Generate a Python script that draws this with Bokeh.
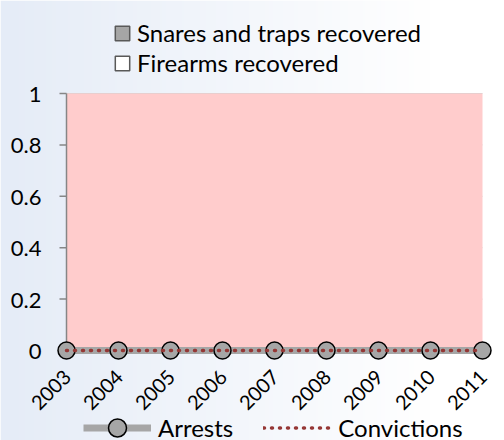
import math
import numpy as np
from bokeh.plotting import figure
from bokeh.models import Legend, LegendItem, Range1d, BoxAnnotation
from bokeh.core.properties import value
from bokeh.embed import file_html
from bokeh.resources import INLINE

years = [2003, 2004, 2005, 2006, 2007, 2008, 2009, 2010, 2011]
arrests = [0, 0, 0, 0, 0, 0, 0, 0, 0]
convictions = [0, 0, 0, 0, 0, 0, 0, 0, 0]
snares_traps = [0, 0, 0, 0, 0, 0, 0, 0, 0]
firearms = [0, 0, 0, 0, 0, 0, 0, 0, 0]
x_tick_labels = ["2003", "2004", "2005", "2006", "2007", "2008", "2009", "2010", "2011"]
y_ticks = [0, 0.2, 0.4, 0.6, 0.8, 1]
y_tick_labels = ["0", "0.2", "0.4", "0.6", "0.8", "1"]

FONT = "Lato"
W, H = 504, 440
# desired pixel positions of the plot area (layout only)
PA_LEFT, PA_RIGHT, PA_TOP, PA_BOTTOM = 66, 482, 93, 350

x_lo, x_hi = years[0], years[-1]
y_lo, y_hi = y_ticks[0], y_ticks[-1]
ppx = (PA_RIGHT - PA_LEFT) / (x_hi - x_lo)
ppy = (PA_BOTTOM - PA_TOP) / (y_hi - y_lo)
xr = Range1d(x_lo - PA_LEFT / ppx, x_lo + (W - PA_LEFT) / ppx)
yr = Range1d(y_lo - (H - PA_BOTTOM) / ppy, y_hi + PA_TOP / ppy)

p = figure(width=W, height=H, x_range=xr, y_range=yr,
           output_backend="svg", toolbar_location=None,
           min_border_left=0, min_border_right=0, min_border_top=0, min_border_bottom=0)
p.xaxis.visible = False
p.yaxis.visible = False
p.xgrid.grid_line_color = None
p.ygrid.grid_line_color = None
p.background_fill_color = None
p.border_fill_color = "#E6EDF7"
p.outline_line_color = None

# background gradient (light blue -> white)
gw = 256
t = np.clip((np.arange(gw) * W / gw) / (W * 0.85), 0, 1)
c0 = np.array([229, 236, 247])
c1 = np.array([255, 255, 255])
cols = (c0[None, :] * (1 - t[:, None]) + c1[None, :] * t[:, None]).astype(np.uint32)
row = (255 << 24) | (cols[:, 2] << 16) | (cols[:, 1] << 8) | cols[:, 0]
img = np.tile(row.astype(np.uint32), (2, 1))
p.image_rgba(image=[img], x=xr.start, y=yr.start, dw=xr.end - xr.start, dh=yr.end - yr.start, level="image")

# plot area
p.add_layout(BoxAnnotation(left=x_lo, right=x_hi, bottom=y_lo, top=y_hi,
                           fill_color="#FFCCCC", fill_alpha=1, line_color=None, level="underlay"))
# horizontal grid lines
p.segment(x0=[x_lo] * len(y_ticks), x1=[x_hi] * len(y_ticks), y0=y_ticks, y1=y_ticks,
          line_color="#D0D0D0", line_width=1, level="underlay")

# y axis (line, ticks, labels)
p.segment(x0=[x_lo], y0=[y_lo], x1=[x_lo], y1=[y_hi], line_color="#868686", line_width=1.5)
p.ray(x=[x_lo] * len(y_ticks), y=y_ticks, length=7, length_units="screen", angle=math.pi,
      line_color="#868686", line_width=1.5)
p.text(x=[x_lo] * len(y_ticks), y=y_ticks, text=y_tick_labels, text_align="right",
       text_baseline="middle", x_offset=-25, y_offset=1,
       text_font=value(FONT), text_font_size="22px", text_color="#000000")

# x axis labels
p.text(x=years, y=[y_lo] * len(years), text=x_tick_labels, angle=math.pi / 4,
       text_align="right", text_baseline="middle", x_offset=1, y_offset=23,
       text_font=value(FONT), text_font_size="20px", text_color="#000000")

# bars (all zero)
r_snare = p.vbar(x=years, top=snares_traps, width=0.3, fill_color="#A6A6A6", line_color="#595959", line_width=1.5)
r_fire = p.vbar(x=years, top=firearms, width=0.3, fill_color="#FFFFFF", line_color="#595959", line_width=1.5)

# arrests
r_arr_line = p.line(years, arrests, line_color="#A6A6A6", line_width=7)
r_arr_pts = p.scatter(years, arrests, size=17, fill_color="#A6A6A6", line_color="#000000", line_width=1.5)
# convictions
r_conv = p.line(years, convictions, line_color="#953735", line_width=3.5, line_dash="1 7", line_cap="round")

top_legend = Legend(items=[LegendItem(label="Snares and traps recovered", renderers=[r_snare]),
                           LegendItem(label="Firearms recovered", renderers=[r_fire])],
                    location=(113, H - 77), orientation="vertical")
bot_legend = Legend(items=[LegendItem(label="Arrests", renderers=[r_arr_line, r_arr_pts]),
                           LegendItem(label="Convictions", renderers=[r_conv])],
                    location=(83, -10), orientation="horizontal")
for lg in (top_legend, bot_legend):
    lg.background_fill_alpha = 0
    lg.border_line_color = None
    lg.padding = 0
    lg.margin = 0
    lg.label_text_font = FONT
    lg.label_text_font_size = "24px"
    lg.label_text_color = "#000000"
top_legend.glyph_width = 18
top_legend.glyph_height = 18
top_legend.label_height = 18
top_legend.spacing = 1
top_legend.label_standoff = 6
bot_legend.glyph_width = 68
bot_legend.glyph_height = 45
bot_legend.label_height = 20
bot_legend.spacing = 30
bot_legend.label_standoff = 7
p.add_layout(top_legend, "center")
p.add_layout(bot_legend, "center")

open("out.html", "w").write(file_html(p, INLINE))
